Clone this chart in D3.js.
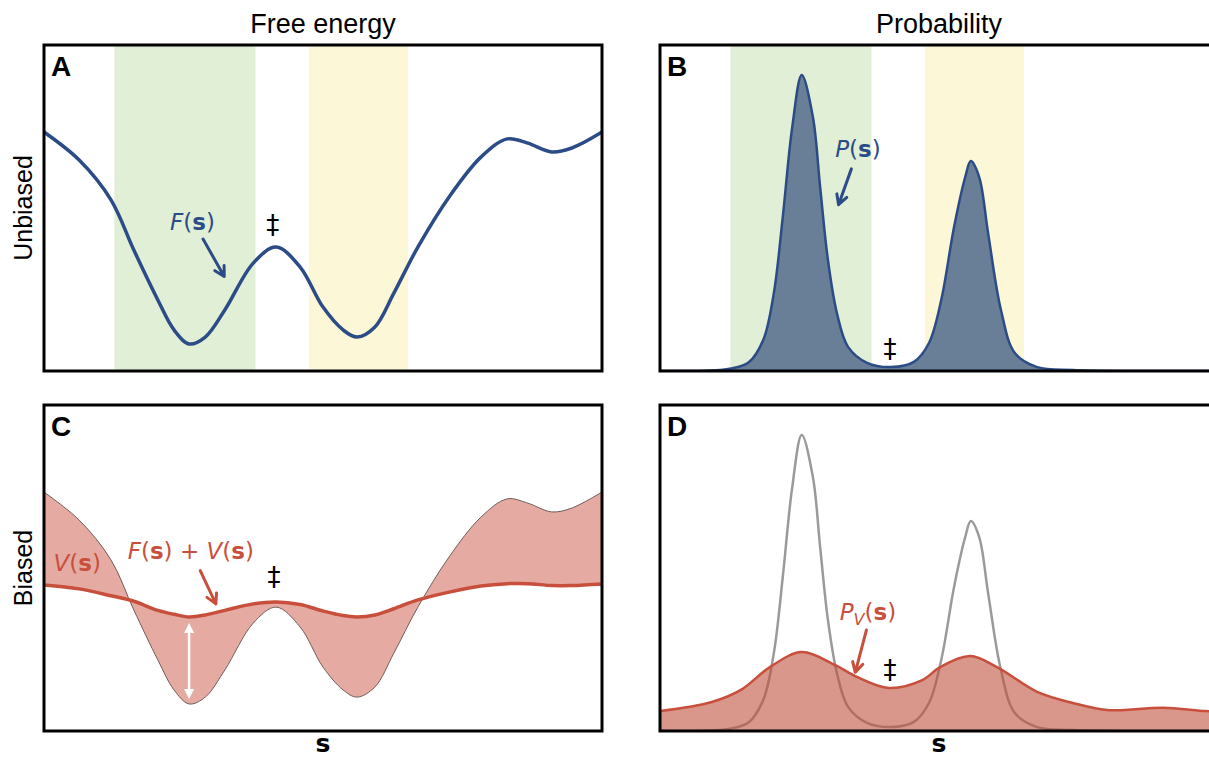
<!DOCTYPE html>
<html>
<head>
<meta charset="utf-8">
<script src="https://cdn.jsdelivr.net/npm/d3@7"></script>
<style>
  body { margin: 0; background: #ffffff; }
  text { font-family: "Liberation Sans", Arial, sans-serif; }
  .math { font-family: "DejaVu Sans", sans-serif; }
</style>
</head>
<body>
<script>

// collective variable grid shared by F(s) and F(s) + V(s)
let sGrid = [0, 0.63, 1.2, 1.61, 2.04, 2.33, 2.6, 2.89, 3.24, 3.75, 4.16,
             4.59, 5.0, 5.36, 5.61, 5.93, 6.27, 6.7, 7.26, 7.83, 8.3, 8.67,
             9.1, 9.46, 10];

// unbiased free energy F(s)
let freeEnergy = [7.33, 6.47, 5.25, 3.71, 2.18, 1.26, 0.83, 1.04, 1.87, 3.31,
                  3.80, 3.19, 1.96, 1.26, 1.04, 1.35, 2.39, 3.80, 5.34, 6.56,
                  7.12, 6.99, 6.72, 6.84, 7.33];

// biased free energy F(s) + V(s)
let biasedEnergy = [4.48, 4.36, 4.15, 3.98, 3.70, 3.58, 3.50, 3.56, 3.70, 3.90,
                    3.96, 3.88, 3.68, 3.54, 3.50, 3.56, 3.75, 4.02, 4.26, 4.45,
                    4.52, 4.52, 4.46, 4.46, 4.51];

// unbiased probability P(s)
let probS = [0, 0.8, 1.22, 1.58, 1.85, 2.04, 2.20, 2.37, 2.54, 2.74, 2.87,
             3.01, 3.17, 3.37, 3.71, 4.14, 4.55, 4.82, 5.04, 5.27, 5.47, 5.57,
             5.72, 5.88, 6.11, 6.36, 6.76, 7.40, 8.5, 10];
let probVals = [0, 0.001, 0.006, 0.025, 0.095, 0.239, 0.472, 0.748, 0.908,
                0.779, 0.564, 0.340, 0.178, 0.074, 0.025, 0.012, 0.028, 0.086,
                0.218, 0.442, 0.595, 0.644, 0.595, 0.423, 0.187, 0.055, 0.012,
                0.003, 0, 0];

// biased probability P_V(s)
let biasedProbS = [0, 0.93, 1.45, 1.97, 2.54, 3.14, 3.53, 4.10, 4.70, 5.02,
                   5.56, 6.04, 6.76, 7.40, 8.05, 9.01, 9.78, 10];
let biasedProbVals = [0.061, 0.089, 0.126, 0.196, 0.242, 0.202, 0.166, 0.132,
                      0.156, 0.196, 0.230, 0.196, 0.120, 0.086, 0.064, 0.071,
                      0.061, 0.061];

// shaded basins [start, end] in s
let basins = [[1.26, 3.79], [4.75, 6.52]];
let basinColors = ["#e2efd7", "#fcf7d6"];

let colTitles = ["Free energy", "Probability"];
let rowTitles = ["Unbiased", "Biased"];
let panelLetters = ["A", "B", "C", "D"];

const navy = "#2b4c86";
const red = "#c84f3c";


window.onload = function() {
    main();
};


/**
 * Builds the four panels.
 */
function main() {
    let svg = d3.select("body")
                .append("svg")
                .attr("width", 1209)
                .attr("height", 758);

    let dims = {w: 558, h: 326, cols: [44, 660], rows: [45, 405]};

    // column titles, row titles and s labels
    colTitles.forEach(function(t, i) {
        svg.append("text")
           .attr("x", dims.cols[i] + dims.w / 2)
           .attr("y", 33)
           .attr("text-anchor", "middle")
           .style("font-size", "27px")
           .text(t);
        svg.append("text")
           .attr("class", "math")
           .attr("x", dims.cols[i] + dims.w / 2)
           .attr("y", 752)
           .attr("text-anchor", "middle")
           .style("font-size", "25px")
           .style("font-weight", "bold")
           .text("s");
    });
    rowTitles.forEach(function(t, i) {
        let cy = dims.rows[i] + dims.h / 2;
        svg.append("text")
           .attr("transform", "translate(32," + cy + ") rotate(-90)")
           .attr("text-anchor", "middle")
           .style("font-size", "25px")
           .text(t);
    });

    let x = d3.scaleLinear().domain([0, 10]).range([0, dims.w]);
    let yF = d3.scaleLinear().domain([0, 10]).range([dims.h, 0]);
    let yP = d3.scaleLinear().domain([0, 1]).range([dims.h, 0]);

    let panels = [];
    for (let r = 0; r < 2; r++) {
        for (let c = 0; c < 2; c++) {
            let g = svg.append("g")
                       .attr("transform", "translate(" + dims.cols[c] + "," +
                             dims.rows[r] + ")");
            g.append("clipPath")
             .attr("id", "clip" + r + c)
             .append("rect")
             .attr("width", dims.w)
             .attr("height", dims.h);
            let inner = g.append("g").attr("clip-path", "url(#clip" + r + c + ")");
            panels.push({g: g, inner: inner});
        }
    }

    drawFreeEnergy(panels[0], x, yF);
    drawProbability(panels[1], x, yP);
    drawBiasedEnergy(panels[2], x, yF);
    drawBiasedProbability(panels[3], x, yP);

    // frames and letters
    panels.forEach(function(p, i) {
        p.g.append("rect")
           .attr("width", dims.w)
           .attr("height", dims.h)
           .attr("fill", "none")
           .attr("stroke", "#000")
           .attr("stroke-width", 3);
        p.g.append("text")
           .attr("x", 7)
           .attr("y", 31)
           .style("font-size", "28px")
           .style("font-weight", "bold")
           .text(panelLetters[i]);
    });
}


/**
 * Adds the green and yellow basin bands.
 */
function drawBasins(inner, x, h) {
    inner.selectAll("rect.basin")
         .data(basins)
         .enter()
         .append("rect")
         .attr("class", "basin")
         .attr("x", d => x(d[0]))
         .attr("width", d => x(d[1]) - x(d[0]))
         .attr("y", 0)
         .attr("height", h)
         .attr("fill", (d, i) => basinColors[i]);
}


/**
 * Adds a math label: parts are [text, style] pairs.
 */
function mathLabel(g, px, py, parts, color) {
    let t = g.append("text")
             .attr("class", "math")
             .attr("x", px)
             .attr("y", py)
             .attr("fill", color)
             .style("font-size", "23px");
    parts.forEach(function(p) {
        let span = t.append("tspan").text(p[0]);
        if (p[1] === "i") span.style("font-style", "italic");
        if (p[1] === "b") span.style("font-weight", "bold");
        if (p[1] === "sub") {
            span.style("font-style", "italic")
                .style("font-size", "16px")
                .attr("dy", 5);
        }
        if (p[1] === "up") span.attr("dy", -5);
    });
}


/**
 * Adds an arrow with an open head.
 */
function arrow(g, x1, y1, x2, y2, color) {
    let a = Math.atan2(y2 - y1, x2 - x1);
    let len = 11, spread = 0.5;
    let path = d3.path();
    path.moveTo(x1, y1);
    path.lineTo(x2, y2);
    path.moveTo(x2 - len * Math.cos(a - spread), y2 - len * Math.sin(a - spread));
    path.lineTo(x2, y2);
    path.lineTo(x2 - len * Math.cos(a + spread), y2 - len * Math.sin(a + spread));
    g.append("path")
     .attr("d", path.toString())
     .attr("fill", "none")
     .attr("stroke", color)
     .attr("stroke-width", 3)
     .attr("stroke-linecap", "round")
     .attr("stroke-linejoin", "round");
}


/**
 * Adds the transition state marker.
 */
function dagger(g, px, py) {
    g.append("text")
     .attr("class", "math")
     .attr("x", px)
     .attr("y", py)
     .attr("text-anchor", "middle")
     .style("font-size", "26px")
     .text("\u2021");
}


function drawFreeEnergy(p, x, y) {
    drawBasins(p.inner, x, 326);
    let line = d3.line()
                 .x((d, i) => x(sGrid[i]))
                 .y(d => y(d))
                 .curve(d3.curveCatmullRom);
    p.inner.append("path")
     .attr("d", line(freeEnergy))
     .attr("fill", "none")
     .attr("stroke", navy)
     .attr("stroke-width", 3.5);

    mathLabel(p.g, x(2.26), y(4.33), [["F", "i"], ["(", ""], ["s", "b"], [")", ""]], navy);
    arrow(p.g, x(2.85), y(4.05), x(3.23), y(2.9), navy);
    dagger(p.g, x(4.1), y(4.2));
}


function drawProbability(p, x, y) {
    drawBasins(p.inner, x, 326);
    let area = d3.area()
                 .x((d, i) => x(probS[i]))
                 .y0(y(0))
                 .y1(d => y(d))
                 .curve(d3.curveCatmullRom);
    p.inner.append("path")
     .attr("d", area(probVals))
     .attr("fill", "#687f97");
    p.inner.append("path")
     .attr("d", area.lineY1()(probVals))
     .attr("fill", "none")
     .attr("stroke", navy)
     .attr("stroke-width", 2.5);

    mathLabel(p.g, x(3.14), y(0.655), [["P", "i"], ["(", ""], ["s", "b"], [")", ""]], navy);
    arrow(p.g, x(3.43), y(0.62), x(3.2), y(0.51), navy);
    dagger(p.g, x(4.12), y(0.04));
}


function drawBiasedEnergy(p, x, y) {
    let area = d3.area()
                 .x((d, i) => x(sGrid[i]))
                 .y0((d, i) => y(biasedEnergy[i]))
                 .y1(d => y(d))
                 .curve(d3.curveCatmullRom);
    p.inner.append("path")
     .attr("d", area(freeEnergy))
     .attr("fill", red)
     .attr("fill-opacity", 0.48);
    p.inner.append("path")
     .attr("d", area.lineY1()(freeEnergy))
     .attr("fill", "none")
     .attr("stroke", "#6e5c58")
     .attr("stroke-width", 1);
    p.inner.append("path")
     .attr("d", area.lineY0()(freeEnergy))
     .attr("fill", "none")
     .attr("stroke", red)
     .attr("stroke-width", 3.5);

    // white double arrow showing the bias at the first minimum
    let ax = x(2.6), top = y(3.5) + 6, bot = y(0.83) - 5;
    p.g.append("line")
     .attr("x1", ax).attr("x2", ax)
     .attr("y1", top + 8).attr("y2", bot - 8)
     .attr("stroke", "#fff")
     .attr("stroke-width", 2.5);
    p.g.append("path")
     .attr("d", "M" + (ax - 5) + "," + (top + 10) + "L" + ax + "," + top +
           "L" + (ax + 5) + "," + (top + 10) + "Z" +
           "M" + (ax - 5) + "," + (bot - 10) + "L" + ax + "," + bot +
           "L" + (ax + 5) + "," + (bot - 10) + "Z")
     .attr("fill", "#fff");

    mathLabel(p.g, x(0.17), y(4.92), [["V", "i"], ["(", ""], ["s", "b"], [")", ""]], red);
    mathLabel(p.g, x(1.5), y(5.28),
              [["F", "i"], ["(", ""], ["s", "b"], [") + ", ""], ["V", "i"],
               ["(", ""], ["s", "b"], [")", ""]], red);
    arrow(p.g, x(2.8), y(4.92), x(3.08), y(3.9), red);
    dagger(p.g, x(4.12), y(4.45));
}


function drawBiasedProbability(p, x, y) {
    let line = d3.line()
                 .x((d, i) => x(probS[i]))
                 .y(d => y(d))
                 .curve(d3.curveCatmullRom);
    p.inner.append("path")
     .attr("d", line(probVals))
     .attr("fill", "none")
     .attr("stroke", "#9a9a9a")
     .attr("stroke-width", 2.5);

    let area = d3.area()
                 .x((d, i) => x(biasedProbS[i]))
                 .y0(y(0))
                 .y1(d => y(d))
                 .curve(d3.curveCatmullRom);
    p.inner.append("path")
     .attr("d", area(biasedProbVals))
     .attr("fill", "#c0503c")
     .attr("fill-opacity", 0.6);
    p.inner.append("path")
     .attr("d", area.lineY1()(biasedProbVals))
     .attr("fill", "none")
     .attr("stroke", red)
     .attr("stroke-width", 2.5);

    mathLabel(p.g, x(3.22), y(0.34),
              [["P", "i"], ["V", "sub"], ["(", "up"], ["s", "b"], [")", ""]], red);
    arrow(p.g, x(3.7), y(0.31), x(3.5), y(0.18), red);
    dagger(p.g, x(4.12), y(0.16));
}

</script>
</body>
</html>
